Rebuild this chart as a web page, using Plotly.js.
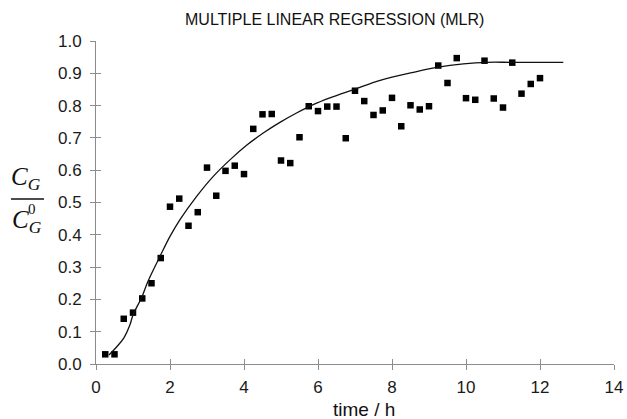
<!DOCTYPE html>
<html>
<head>
<meta charset="utf-8">
<script src="https://cdn.plot.ly/plotly-3.0.1.min.js"></script>
<style>html,body{margin:0;padding:0;background:#fff;}#chart{width:627px;height:419px;}</style>
</head>
<body>
<div id="chart"></div>
<script>
// Measured data points
const timeH = [0.25,0.5,0.75,1.0,1.25,1.5,1.75,2.0,2.25,2.5,2.75,3.0,3.25,3.5,3.75,4.0,4.25,4.5,4.75,5.0,5.25,5.5,5.75,6.0,6.25,6.5,6.75,7.0,7.25,7.5,7.75,8.0,8.25,8.5,8.75,9.0,9.25,9.5,9.75,10.0,10.25,10.5,10.75,11.0,11.25,11.5,11.75,12.0];
const ratio = [0.03,0.03,0.14,0.159,0.203,0.25,0.328,0.487,0.512,0.428,0.47,0.608,0.521,0.598,0.614,0.588,0.728,0.773,0.774,0.63,0.622,0.702,0.798,0.783,0.797,0.797,0.699,0.846,0.814,0.771,0.785,0.824,0.736,0.801,0.788,0.798,0.924,0.87,0.947,0.823,0.818,0.939,0.822,0.794,0.933,0.837,0.867,0.885];
// MLR fitted curve
const fitX = [0.35,0.55,0.75,0.92,1.0,1.25,1.4,1.75,2.0,2.27,2.72,3.17,3.62,4.07,4.52,4.97,5.42,5.87,6.32,7.0,7.68,8.58,9.25,9.93,10.56,11.23,12.63];
const fitY = [0.028,0.052,0.08,0.122,0.152,0.21,0.255,0.338,0.395,0.447,0.519,0.581,0.632,0.677,0.715,0.748,0.777,0.803,0.824,0.851,0.878,0.903,0.919,0.929,0.934,0.934,0.934];
const xTicks = [0,2,4,6,8,10,12,14];
const yTicks = [0,0.1,0.2,0.3,0.4,0.5,0.6,0.7,0.8,0.9,1.0];
const chartTitle = 'MULTIPLE LINEAR REGRESSION (MLR)';
const xLabel = 'time / h';

const L = 96, R = 13, T = 41, B = 55, W = 627, H = 419;
const pw = W - L - R, ph = H - T - B;
const px = v => (v - L) / pw;
const py = v => (H - B - v) / ph;

const axisCommon = {
  showgrid: false, zeroline: false, showline: true, linecolor: '#8c8c8c', linewidth: 1,
  tickcolor: '#8c8c8c', tickwidth: 1, ticklen: 5,
  tickfont: {family: 'Liberation Sans, Arial, sans-serif', size: 17, color: '#1a1a1a'}
};

const data = [
  {x: fitX, y: fitY, type: 'scatter', mode: 'lines', line: {color: '#111', width: 1.3, shape: 'spline'}, xaxis: 'x2', yaxis: 'y2', hoverinfo: 'skip'},
  {x: timeH, y: ratio, type: 'scatter', mode: 'markers', marker: {symbol: 'square', size: 6.5, color: '#000'}}
];

const layout = {
  width: W, height: H,
  margin: {l: L, r: R, t: T, b: B},
  paper_bgcolor: '#fff', plot_bgcolor: 'rgba(0,0,0,0)',
  showlegend: false,
  xaxis: Object.assign({}, axisCommon, {range: [0, 14], tickvals: xTicks, ticks: 'outside', ticklabelstandoff: 3}),
  yaxis: Object.assign({}, axisCommon, {range: [0, 1], tickvals: yTicks, tickformat: '.1f', ticks: 'outside', ticklabelstandoff: 5}),
  xaxis2: Object.assign({}, axisCommon, {range: [0, 14], tickvals: xTicks, ticks: 'inside', overlaying: 'x', showticklabels: false, showline: false, anchor: 'y2'}),
  yaxis2: Object.assign({}, axisCommon, {range: [0, 1], tickvals: yTicks, ticks: 'inside', overlaying: 'y', showticklabels: false, showline: false, anchor: 'x2'}),
  annotations: [
    {text: chartTitle, xref: 'paper', yref: 'paper', x: px(334), y: py(19), xanchor: 'center', yanchor: 'middle', showarrow: false,
     font: {family: 'Liberation Sans, Arial, sans-serif', size: 16, color: '#111'}},
    {text: xLabel, xref: 'paper', yref: 'paper', x: px(364), y: py(409), xanchor: 'center', yanchor: 'middle', showarrow: false,
     font: {family: 'Liberation Sans, Arial, sans-serif', size: 19, color: '#111'}},
    {text: '<i>C</i><sub><i>G</i></sub>', xref: 'paper', yref: 'paper', x: px(26), y: py(178), xanchor: 'center', yanchor: 'middle', showarrow: false,
     font: {family: 'Liberation Serif, Times New Roman, serif', size: 25, color: '#111'}},
    {text: '<i>C</i><sub><i>G</i></sub>', xref: 'paper', yref: 'paper', x: px(27), y: py(221), xanchor: 'center', yanchor: 'middle', showarrow: false,
     font: {family: 'Liberation Serif, Times New Roman, serif', size: 25, color: '#111'}},
    {text: '0', xref: 'paper', yref: 'paper', x: px(32), y: py(209), xanchor: 'center', yanchor: 'middle', showarrow: false,
     font: {family: 'Liberation Serif, Times New Roman, serif', size: 15, color: '#111'}}
  ],
  shapes: [
    {type: 'line', xref: 'paper', yref: 'paper', x0: px(11), x1: px(44), y0: py(199), y1: py(199), line: {color: '#111', width: 1.6}}
  ]
};

Plotly.newPlot('chart', data, layout, {displayModeBar: false, staticPlot: true});
</script>
</body>
</html>
